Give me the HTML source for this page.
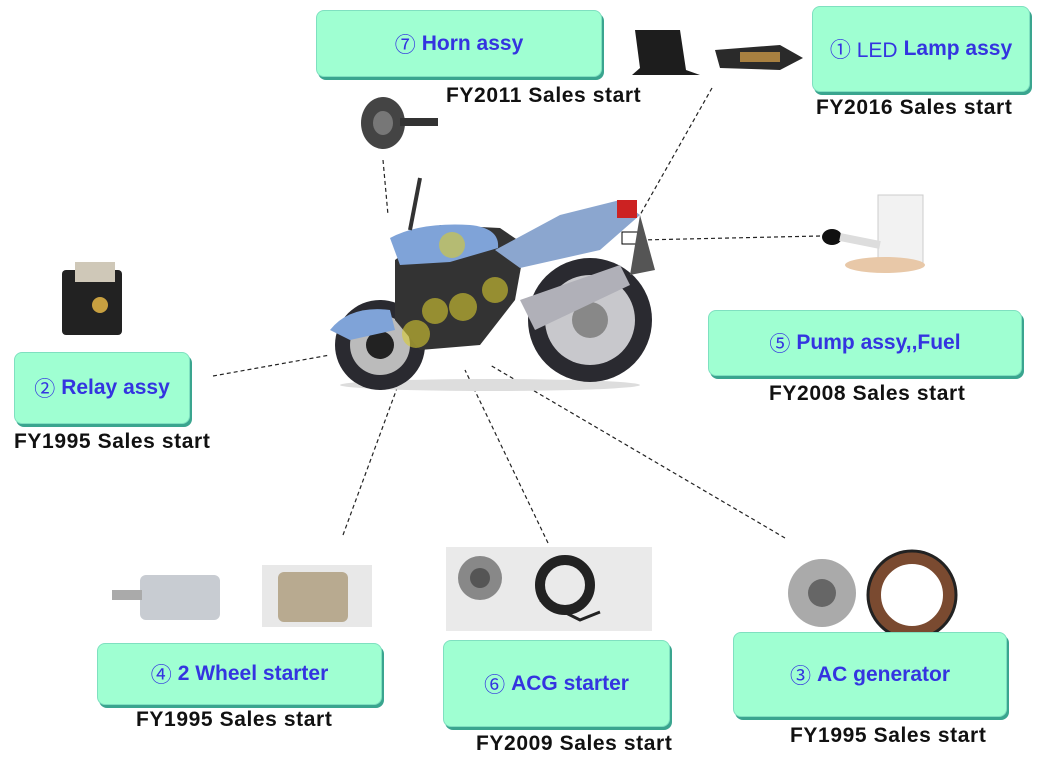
<!DOCTYPE html>
<html><head><meta charset="utf-8"><style>
body{margin:0;width:1062px;height:762px;background:#fff;position:relative;overflow:hidden;font-family:"Liberation Sans","Noto Sans CJK JP",sans-serif}
.b{position:absolute;background:#9fffd2;border-radius:8px;border:1px solid #7fe0c0;box-shadow:2px 3px 0 #3aa58f;color:#3434e0;font-weight:bold;font-size:21px;display:flex;align-items:center;justify-content:center;box-sizing:border-box}
.b i{font-style:normal;font-weight:normal;margin-right:6px}
.c{position:absolute;font-weight:bold;font-size:21px;letter-spacing:0.6px;color:#111;white-space:nowrap}
svg{position:absolute;left:0;top:0}
</style></head><body>
<svg width="1062" height="762">
<g stroke="#222" stroke-width="1.2" stroke-dasharray="4,3" fill="none">
<line x1="383" y1="160" x2="388" y2="215"/><line x1="712" y1="88" x2="640" y2="215"/>
<line x1="820" y1="236" x2="640" y2="240"/><line x1="213" y1="376" x2="330" y2="355"/>
<line x1="343" y1="535" x2="400" y2="380"/><line x1="548" y1="543" x2="465" y2="370"/>
<line x1="785" y1="538" x2="490" y2="365"/></g>
<ellipse cx="490" cy="385" rx="150" ry="6" fill="#ddd"/>
<circle cx="380" cy="345" r="45" fill="#2a2a30"/><circle cx="380" cy="345" r="30" fill="#bbb"/><circle cx="380" cy="345" r="14" fill="#222"/>
<circle cx="590" cy="320" r="62" fill="#2a2a30"/><circle cx="590" cy="320" r="45" fill="#c8c8cc"/><circle cx="590" cy="320" r="18" fill="#888"/>
<path d="M395 260 L440 225 L500 228 L525 245 L515 300 L480 345 L420 350 L395 320Z" fill="#333"/>
<path d="M390 238 Q420 222 470 225 Q500 228 498 248 L450 262 L400 265Z" fill="#7fa3d8"/>
<path d="M495 250 L560 215 L620 200 L640 215 L600 250 L520 268Z" fill="#8ba6cf"/>
<path d="M520 300 L620 265 L630 285 L535 330Z" fill="#b0b0b8"/>
<path d="M330 330 Q350 305 390 310 L395 330 L350 340Z" fill="#7fa3d8"/>
<rect x="617" y="200" width="20" height="18" fill="#c22"/><rect x="622" y="232" width="22" height="12" fill="#fff" stroke="#000"/>
<path d="M640 215 L655 270 L630 275Z" fill="#555"/>
<line x1="420" y1="178" x2="410" y2="230" stroke="#333" stroke-width="4"/>
<g fill="#d8cc30" fill-opacity=".6"><circle cx="452" cy="245" r="13"/><circle cx="495" cy="290" r="13"/><circle cx="463" cy="307" r="14"/><circle cx="435" cy="311" r="13"/><circle cx="416" cy="334" r="14"/></g>
<ellipse cx="383" cy="123" rx="22" ry="26" fill="#444"/><ellipse cx="383" cy="123" rx="10" ry="12" fill="#777"/><rect x="400" y="118" width="38" height="8" fill="#333"/>
<path d="M635 30 L680 30 L686 70 L700 75 L632 75 L640 68Z" fill="#1d1d1d"/>
<path d="M715 50 L780 45 L803 58 L780 70 L720 68Z" fill="#2a2a2a"/><rect x="740" y="52" width="40" height="10" fill="#a88040"/>
<rect x="62" y="270" width="60" height="65" rx="4" fill="#222"/><rect x="75" y="262" width="40" height="20" fill="#cfc8b8"/><circle cx="100" cy="305" r="8" fill="#c8a040"/>
<rect x="878" y="195" width="45" height="70" fill="#f2f2f2" stroke="#ccc"/><ellipse cx="885" cy="265" rx="40" ry="8" fill="#e8c8a8"/><ellipse cx="832" cy="237" rx="10" ry="8" fill="#111"/><path d="M840 237 L880 245" stroke="#ddd" stroke-width="8"/>
<rect x="140" y="575" width="80" height="45" rx="6" fill="#c8ccd2"/><rect x="112" y="590" width="30" height="10" fill="#aaa"/>
<rect x="262" y="565" width="110" height="62" fill="#e8e8e8"/><rect x="278" y="572" width="70" height="50" rx="6" fill="#b8aa90"/>
<rect x="446" y="547" width="206" height="84" fill="#eaeaea"/><circle cx="480" cy="578" r="22" fill="#888"/><circle cx="480" cy="578" r="10" fill="#555"/>
<circle cx="565" cy="585" r="25" fill="none" stroke="#222" stroke-width="10"/><path d="M540 600 L580 620 L600 612" stroke="#222" stroke-width="3" fill="none"/>
<circle cx="822" cy="593" r="34" fill="#aaa"/><circle cx="822" cy="593" r="14" fill="#666"/>
<circle cx="912" cy="595" r="38" fill="none" stroke="#7a4a30" stroke-width="14"/><circle cx="912" cy="595" r="44" fill="none" stroke="#222" stroke-width="3"/>
</svg>
<div class="b" style="left:316px;top:10px;width:286px;height:67px"><i>⑦</i>Horn assy</div>
<div class="b" style="left:812px;top:6px;width:218px;height:86px"><i>① LED</i>Lamp assy</div>
<div class="b" style="left:14px;top:352px;width:176px;height:72px"><i>②</i>Relay assy</div>
<div class="b" style="left:708px;top:310px;width:314px;height:66px"><i>⑤</i>Pump assy,,Fuel</div>
<div class="b" style="left:97px;top:643px;width:285px;height:62px"><i>④</i>2 Wheel starter</div>
<div class="b" style="left:443px;top:640px;width:227px;height:87px"><i>⑥</i>ACG starter</div>
<div class="b" style="left:733px;top:632px;width:274px;height:85px"><i>③</i>AC generator</div>
<div class="c" style="left:446px;top:84px">FY2011 Sales start</div>
<div class="c" style="left:816px;top:96px">FY2016 Sales start</div>
<div class="c" style="left:14px;top:430px">FY1995 Sales start</div>
<div class="c" style="left:769px;top:382px">FY2008 Sales start</div>
<div class="c" style="left:136px;top:708px">FY1995 Sales start</div>
<div class="c" style="left:476px;top:732px">FY2009 Sales start</div>
<div class="c" style="left:790px;top:724px">FY1995 Sales start</div>
</body></html>
